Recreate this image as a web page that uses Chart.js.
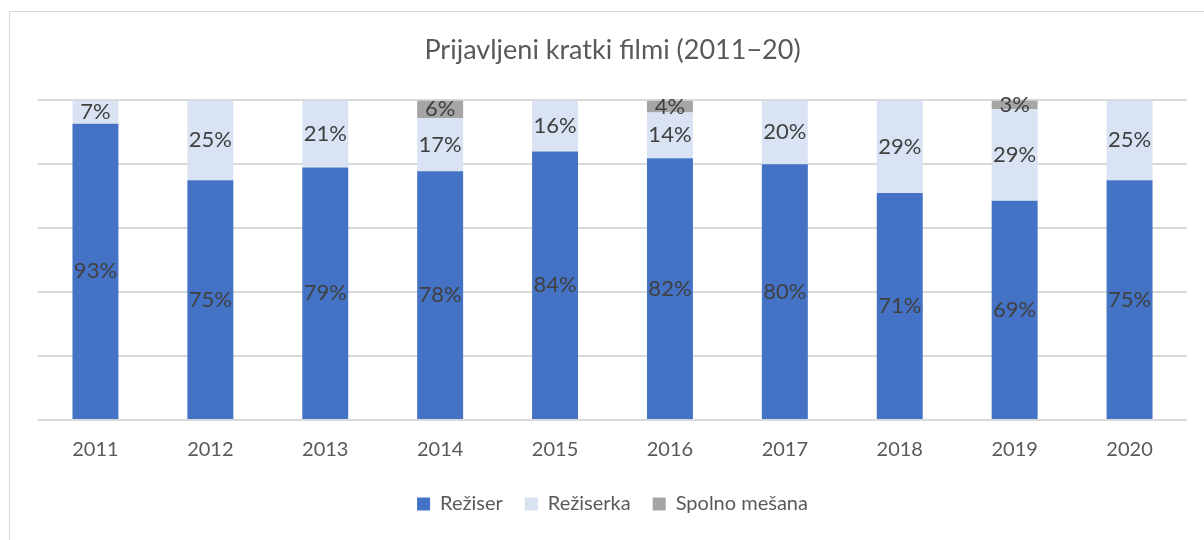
<!DOCTYPE html>
<html>
<head>
<meta charset="utf-8">
<script src="https://cdn.jsdelivr.net/npm/chart.js@4"></script>
<style>
  html, body { margin: 0; padding: 0; background: #fff; overflow: hidden; }
  #wrap { position: relative; width: 1204px; height: 540px; }
  #frame { position: absolute; left: 9px; top: 11px; width: 1300px; height: 600px;
           border-left: 1px solid #d9d9d9; border-top: 1px solid #d9d9d9; }
  canvas { position: absolute; left: 0; top: 0; }
</style>
</head>
<body>
<div id="wrap">
  <div id="frame"></div>
  <canvas id="myChart" width="1204" height="540"></canvas>
</div>
<script>
const years = ["2011", "2012", "2013", "2014", "2015", "2016", "2017", "2018", "2019", "2020"];
const reziser = [92.7, 75, 79, 77.8, 84, 81.9, 80, 71, 68.6, 75];
const reziserka = [7.3, 25, 21, 16.6, 16, 14.3, 20, 29, 28.6, 25];
const mesana = [0, 0, 0, 5.6, 0, 3.8, 0, 0, 2.8, 0];

const fontFamily = "Lato, 'Open Sans', sans-serif";

// draws the percentage inside each segment
const segmentLabels = {
  id: 'segmentLabels',
  afterDatasetsDraw(chart) {
    const ctx = chart.ctx;
    ctx.save();
    ctx.font = "22px " + fontFamily;
    ctx.fillStyle = "#404040";
    ctx.textAlign = "center";
    ctx.textBaseline = "middle";
    chart.data.datasets.forEach((ds, i) => {
      chart.getDatasetMeta(i).data.forEach((bar, j) => {
        const v = ds.data[j];
        if (!v) return;
        const mid = (bar.y + bar.base) / 2;
        ctx.fillText(Math.round(v) + "%", bar.x, mid);
      });
    });
    ctx.restore();
  }
};

const ctx = document.getElementById('myChart');

new Chart(ctx, {
  type: 'bar',
  data: {
    labels: years,
    datasets: [
      { label: 'Režiser', data: reziser, backgroundColor: '#4472c4', barPercentage: 0.8, categoryPercentage: 0.5 },
      { label: 'Režiserka', data: reziserka, backgroundColor: '#dae3f3', barPercentage: 0.8, categoryPercentage: 0.5 },
      { label: 'Spolno mešana', data: mesana, backgroundColor: '#a5a5a5', barPercentage: 0.8, categoryPercentage: 0.5 }
    ]
  },
  plugins: [segmentLabels],
  options: {
    responsive: false,
    animation: false,
    layout: { padding: { left: 38, right: 17, top: 0, bottom: 16 } },
    plugins: {
      title: {
        display: true,
        text: 'Prijavljeni kratki filmi (2011−20)',
        color: '#595959',
        font: { family: fontFamily, size: 27, weight: 'normal' },
        padding: { top: 34, bottom: 34 }
      },
      legend: {
        position: 'bottom',
        labels: {
          color: '#595959',
          font: { family: fontFamily, size: 20 },
          boxWidth: 13,
          boxHeight: 13,
          padding: 22
        }
      },
      tooltip: { enabled: false }
    },
    scales: {
      x: {
        stacked: true,
        grid: { display: false },
        border: { display: false },
        ticks: { color: '#595959', font: { family: fontFamily, size: 20 }, padding: 10 }
      },
      y: {
        stacked: true,
        min: 0,
        max: 100,
        ticks: { display: false, stepSize: 20 },
        grid: { color: '#d9d9d9', lineWidth: 2, drawTicks: false },
        border: { display: false }
      }
    }
  }
});
</script>
</body>
</html>
